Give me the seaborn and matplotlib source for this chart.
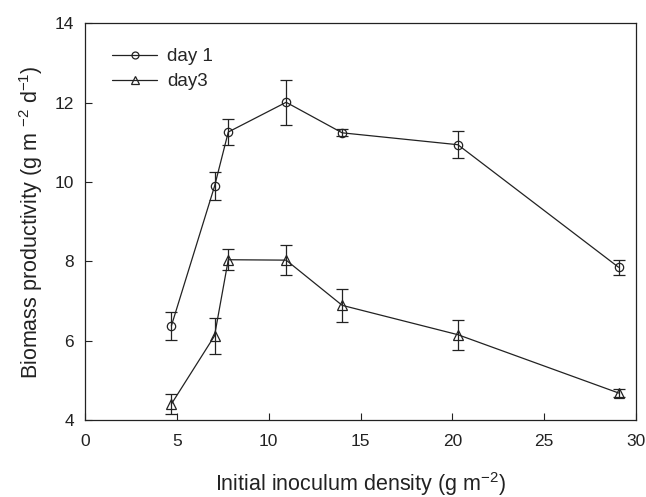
import matplotlib
matplotlib.use("Agg")
import matplotlib.pyplot as plt
import seaborn as sns
import pandas as pd
from matplotlib.lines import Line2D

density = [4.7, 7.05, 7.8, 10.95, 14.0, 20.3, 29.05]
day1 = [6.37, 9.89, 11.26, 12.01, 11.24, 10.94, 7.85]
day1_err = [0.35, 0.35, 0.33, 0.57, 0.09, 0.34, 0.19]
day3 = [4.40, 6.12, 8.04, 8.03, 6.89, 6.15, 4.68]
day3_err = [0.26, 0.45, 0.26, 0.38, 0.41, 0.38, 0.10]
series_names = ["day 1", "day3"]

sns.set_theme(style="ticks")
plt.rcParams['font.family'] = ['Liberation Sans', 'DejaVu Sans']
plt.rcParams['mathtext.default'] = 'regular'

df = pd.DataFrame({
    "x": density * 2,
    "y": day1 + day3,
    "err": day1_err + day3_err,
    "series": [series_names[0]] * len(density) + [series_names[1]] * len(density),
})

ink = "#222222"
fig = plt.figure(figsize=(6.46, 4.97), dpi=100)
ax = fig.add_axes([0.1316, 0.155, 0.853, 0.798])

markers = {"day 1": "o", "day3": "^"}
msizes = {"day 1": 6, "day3": 7}
leg_msizes = {"day 1": 5, "day3": 6}

for name in series_names:
    sub = df[df["series"] == name]
    sns.lineplot(data=sub, x="x", y="y", marker=markers[name], color=ink,
                 markersize=msizes[name], markerfacecolor="none", markeredgecolor=ink,
                 markeredgewidth=0.9, linewidth=0.9, ax=ax, legend=False, sort=False)
    ax.errorbar(sub["x"], sub["y"], yerr=sub["err"], fmt="none",
                ecolor=ink, elinewidth=0.9, capsize=4.5, capthick=0.9)

ax.set_xlim(0, 30)
ax.set_ylim(4, 14)
ax.set_xticks([0, 5, 10, 15, 20, 25, 30])
ax.set_yticks([4, 6, 8, 10, 12, 14])
ax.tick_params(direction="in", length=5, width=0.8, labelsize=12.5, colors=ink)
ax.tick_params(axis="x", pad=10)
ax.tick_params(axis="y", pad=8)
for s in ax.spines.values():
    s.set_visible(True)
    s.set_linewidth(0.9)
    s.set_color(ink)

ax.set_xlabel("Initial inoculum density (g m$^{-2}$)", fontsize=15.5, labelpad=15, color=ink)
ax.set_ylabel("Biomass productivity (g m $^{-2}$ d$^{-1}$)", fontsize=15.5, labelpad=7, color=ink)

handles = [Line2D([], [], color=ink, lw=0.9, marker=markers[n], markersize=leg_msizes[n],
                  markerfacecolor="none", markeredgecolor=ink, markeredgewidth=0.9)
           for n in series_names]
ax.legend(handles, series_names, loc="upper left", frameon=False, fontsize=13.5,
          handlelength=2.4, handletextpad=0.55, borderaxespad=0, borderpad=0,
          labelspacing=0.42, bbox_to_anchor=(0.049, 0.937))

fig.savefig("out.png", dpi=100)
